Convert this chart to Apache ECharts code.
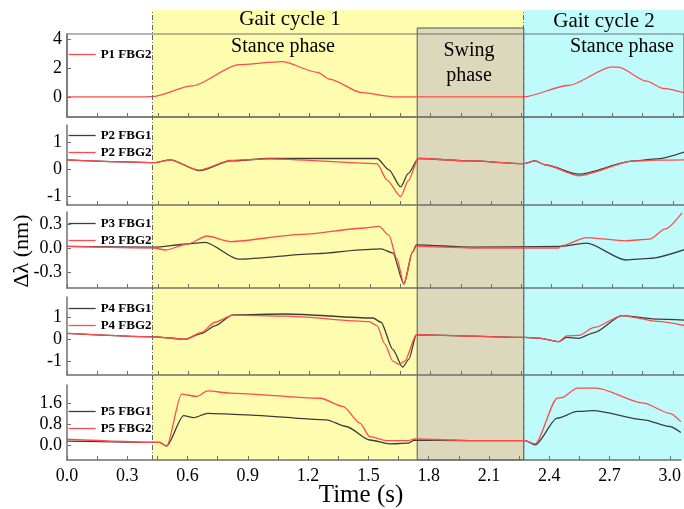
<!DOCTYPE html>
<html>
<head>
<meta charset="utf-8">
<script src="https://cdn.jsdelivr.net/npm/echarts@6/dist/echarts.min.js"></script>
<style>
  html, body { margin: 0; padding: 0; background: #fff; }
  #main { width: 684px; height: 509px; }
</style>
</head>
<body>
<div id="main"></div>
<script>
var FONT = '"Liberation Serif", "Times New Roman", serif';

// phase boundaries (s): gait cycle 1 start, swing start, gait cycle 2 start, end of record
var phaseBounds = [0.422, 1.734, 2.262, 3.055];
var timeLabels = [0, 0.3, 0.6, 0.9, 1.2, 1.5, 1.8, 2.1, 2.4, 2.7, 3.0];
var timeTicks = [0, 0.15, 0.3, 0.45, 0.6, 0.75, 0.9, 1.05, 1.2, 1.35, 1.5, 1.65, 1.8, 1.95, 2.1, 2.25, 2.4, 2.55, 2.7, 2.85, 3.0];

// P1
var p1Fbg2T = [0, 0.34, 0.42, 0.62, 0.85, 1.065, 1.24, 1.30, 1.46, 1.63, 2.26, 2.48, 2.70, 2.73, 2.87, 2.95, 3.055];
var p1Fbg2 = [0, 0, 0.02, 0.77, 2.26, 2.47, 1.72, 1.25, 0.3, 0, 0, 0.8, 2.1, 2.08, 1.1, 0.6, 0.3];

// P2
var p2Fbg1T = [0, 0.44, 0.51, 0.655, 0.81, 1.0, 1.535, 1.594, 1.652, 1.69, 1.74, 2.0, 2.259, 2.318, 2.37, 2.533, 2.807, 2.924, 3.057];
var p2Fbg1 = [0.34, 0.24, 0.34, -0.06, 0.3, 0.39, 0.39, -0.03, -0.66, -0.16, 0.39, 0.3, 0.2, 0.3, 0.15, -0.19, 0.3, 0.38, 0.63];
var p2Fbg2T = [0, 0.44, 0.51, 0.655, 0.81, 1.0, 1.535, 1.585, 1.652, 1.69, 1.74, 2.0, 2.259, 2.318, 2.37, 2.533, 2.807, 2.924, 3.057];
var p2Fbg2 = [0.34, 0.24, 0.34, -0.04, 0.32, 0.38, 0.2, -0.41, -1.02, -0.43, 0.39, 0.3, 0.2, 0.3, 0.15, -0.25, 0.3, 0.33, 0.34];

// P3
var p3Fbg1T = [0, 0.43, 0.596, 0.684, 0.849, 1.24, 1.476, 1.555, 1.613, 1.668, 1.711, 1.73, 2.0, 2.435, 2.572, 2.768, 2.885, 3.057];
var p3Fbg1 = [0.02, 0.01, 0.05, 0.07, -0.14, -0.07, -0.02, -0.01, -0.06, -0.45, -0.05, 0.04, 0.01, 0.02, 0.06, -0.15, -0.13, -0.02];
var p3Fbg2T = [0, 0.43, 0.489, 0.596, 0.694, 0.81, 1.162, 1.476, 1.545, 1.594, 1.633, 1.668, 1.711, 1.73, 2.0, 2.435, 2.45, 2.572, 2.768, 2.885, 2.963, 3.045];
var p3Fbg2 = [0.02, 0.0, -0.025, 0.05, 0.15, 0.08, 0.17, 0.25, 0.27, 0.16, -0.13, -0.45, -0.05, 0.02, 0.0, 0.0, 0.03, 0.13, 0.09, 0.11, 0.24, 0.44];

// P4
var p4Fbg1T = [0, 0.43, 0.586, 0.664, 0.733, 0.821, 1.085, 1.515, 1.555, 1.613, 1.662, 1.692, 1.73, 2.0, 2.268, 2.337, 2.435, 2.474, 2.533, 2.611, 2.748, 2.924, 3.057];
var p4Fbg1 = [0.26, 0.11, 0, 0.25, 0.6, 1.09, 1.13, 0.95, 0.76, -0.45, -1.25, -0.9, 0.2, 0.14, 0.08, 0.05, -0.11, 0.08, 0.04, 0.3, 1.06, 0.9, 0.85];
var p4Fbg2T = [0, 0.43, 0.586, 0.664, 0.733, 0.821, 1.085, 1.496, 1.535, 1.574, 1.613, 1.643, 1.672, 1.73, 2.0, 2.268, 2.337, 2.435, 2.474, 2.533, 2.611, 2.748, 2.924, 3.057];
var p4Fbg2 = [0.26, 0.11, 0, 0.3, 0.76, 1.08, 1.03, 0.79, 0.61, -0.22, -0.98, -1.12, -0.98, 0.2, 0.14, 0.08, 0.05, -0.11, 0.15, 0.17, 0.53, 1.06, 0.8, 0.61];

// P5
var p5Fbg1T = [0, 0.46, 0.496, 0.58, 0.63, 0.70, 0.86, 1.29, 1.39, 1.507, 1.605, 1.70, 1.73, 2.0, 2.28, 2.33, 2.44, 2.54, 2.62, 2.87, 3.0, 3.055];
var p5Fbg1 = [0.15, 0.1, -0.04, 1.13, 1.05, 1.22, 1.17, 0.97, 0.71, 0.19, 0.04, 0.07, 0.19, 0.17, 0.17, 0.0, 1.03, 1.29, 1.32, 0.97, 0.71, 0.48];
var p5Fbg2T = [0, 0.46, 0.496, 0.57, 0.645, 0.70, 0.81, 1.26, 1.375, 1.458, 1.507, 1.59, 1.70, 1.73, 2.0, 2.28, 2.33, 2.44, 2.46, 2.54, 2.635, 2.87, 3.0, 3.055];
var p5Fbg2 = [0.22, 0.1, -0.04, 1.96, 1.87, 2.08, 2.0, 1.8, 1.48, 0.84, 0.32, 0.17, 0.17, 0.23, 0.17, 0.17, 0.04, 1.8, 1.82, 2.19, 2.19, 1.61, 1.22, 0.9];

var yRanges = [[-1.4, 4.4], [-1.33, 1.63], [-0.5, 0.45], [-1.6, 1.89], [-0.58, 2.31]];
var yTicks = [[0, 2, 4], [-1, 0, 1], [-0.3, 0, 0.3], [-1, 0, 1], [0, 0.8, 1.6]];
var yDecimals = [0, 0, 1, 0, 1];

var panelGrids = [
  { top: 34, height: 83 },
  { top: 125, height: 80 },
  { top: 212, height: 76 },
  { top: 297, height: 78 },
  { top: 385, height: 75 }
];
var legendTops = [43, 124, 212, 297, 400];

var RED = '#ff4b4b';
var DARK = '#3c3c3c';
var AXIS = '#707070';

function pairs(t, v) {
  return t.map(function (x, i) { return [x, v[i]]; });
}

var chart = echarts.init(document.getElementById('main'));

var grids = [], xAxes = [], yAxes = [], series = [], legends = [];

panelGrids.forEach(function (g, i) {
  grids.push({
    left: 67, right: 0, top: g.top, height: g.height,
    show: i === 0, borderColor: AXIS, borderWidth: 1.2, z: 4,
    backgroundColor: 'transparent'
  });
  xAxes.push({
    type: 'value', gridIndex: i, min: 0, max: phaseBounds[3], z: 4,
    axisLine: { onZero: false, lineStyle: { color: AXIS, width: 1.5 } },
    axisTick: { inside: true, length: 4, customValues: timeTicks, lineStyle: { color: AXIS } },
    axisLabel: {
      show: i === 4, customValues: timeLabels, margin: 7,
      fontFamily: FONT, fontSize: 18, color: '#000',
      formatter: function (v) { return v.toFixed(1); }
    },
    splitLine: { show: false }
  });
  yAxes.push({
    type: 'value', gridIndex: i, min: yRanges[i][0], max: yRanges[i][1], z: 4,
    axisLine: { show: true, lineStyle: { color: AXIS, width: 1.5 } },
    axisTick: { show: true, inside: true, length: 4, customValues: yTicks[i], lineStyle: { color: AXIS } },
    axisLabel: {
      customValues: yTicks[i], margin: 5,
      fontFamily: FONT, fontSize: 18, color: '#000',
      formatter: (function (d) { return function (v) { return v.toFixed(d); }; })(yDecimals[i])
    },
    splitLine: { show: false }
  });
});

// background grids for the phase shading
grids.push({ left: 67, right: 0, top: 10, bottom: 49 });
grids.push({ left: 67, right: 0, top: 28, bottom: 49 });
[5, 6].forEach(function (gi) {
  xAxes.push({ type: 'value', gridIndex: gi, min: 0, max: phaseBounds[3], show: false });
  yAxes.push({ type: 'value', gridIndex: gi, min: 0, max: 1, show: false });
});

series.push({
  type: 'line', xAxisIndex: 5, yAxisIndex: 5, data: [], silent: true, z: 0,
  markArea: {
    silent: true,
    data: [
      [{ xAxis: phaseBounds[0], itemStyle: { color: '#fdfcaf' } }, { xAxis: phaseBounds[2] }],
      [{ xAxis: phaseBounds[2], itemStyle: { color: '#bffbfb' } }, { xAxis: phaseBounds[3] }]
    ]
  },
  markLine: {
    silent: true, symbol: 'none', label: { show: false },
    lineStyle: { color: '#666', width: 1, type: [5, 2, 1, 2] },
    data: [{ xAxis: phaseBounds[0] }, { xAxis: phaseBounds[2] }]
  }
});
series.push({
  type: 'line', xAxisIndex: 6, yAxisIndex: 6, data: [], silent: true, z: 1,
  markArea: {
    silent: true,
    itemStyle: { color: '#dbd8bb', opacity: 1, borderColor: '#555', borderWidth: 1 },
    data: [[{ xAxis: phaseBounds[1] }, { xAxis: phaseBounds[2] }]]
  }
});

var panelSeries = [
  [['P1 FBG2', p1Fbg2T, p1Fbg2, RED]],
  [['P2 FBG1', p2Fbg1T, p2Fbg1, DARK], ['P2 FBG2', p2Fbg2T, p2Fbg2, RED]],
  [['P3 FBG1', p3Fbg1T, p3Fbg1, DARK], ['P3 FBG2', p3Fbg2T, p3Fbg2, RED]],
  [['P4 FBG1', p4Fbg1T, p4Fbg1, DARK], ['P4 FBG2', p4Fbg2T, p4Fbg2, RED]],
  [['P5 FBG1', p5Fbg1T, p5Fbg1, DARK], ['P5 FBG2', p5Fbg2T, p5Fbg2, RED]]
];

panelSeries.forEach(function (list, i) {
  list.forEach(function (s) {
    series.push({
      name: s[0], type: 'line', xAxisIndex: i, yAxisIndex: i,
      data: pairs(s[1], s[2]), symbol: 'none', smooth: 0.25, smoothMonotone: 'x',
      z: 3, lineStyle: { color: s[3], width: 1.3 }, itemStyle: { color: s[3] }
    });
  });
  legends.push({
    data: list.map(function (s) { return s[0]; }),
    orient: 'vertical', left: 63, top: legendTops[i],
    itemWidth: 27, itemHeight: 14, itemGap: 4, selectedMode: false,
    itemStyle: { opacity: 0 },
    lineStyle: { width: 1.3 },
    textStyle: { fontFamily: FONT, fontWeight: 'bold', fontSize: 13, color: '#000' }
  });
});

function label(text, x, y, size, rot) {
  return {
    type: 'text', x: x, y: y, z: 100, rotation: rot || 0, silent: true,
    style: { text: text, fontFamily: FONT, fontSize: size, fill: '#000', align: 'center', verticalAlign: 'middle' }
  };
}

var option = {
  animation: false,
  backgroundColor: '#fff',
  grid: grids,
  xAxis: xAxes,
  yAxis: yAxes,
  legend: legends,
  series: series,
  graphic: [
    label('Gait cycle 1', 290, 19, 21),
    label('Stance phase', 283, 47, 20),
    label('Swing', 469, 51, 20),
    label('phase', 469, 76, 20),
    label('Gait cycle 2', 604, 21, 21),
    label('Stance phase', 622, 47, 20),
    label('Δλ (nm)', 22, 251, 22, Math.PI / 2),
    label('Time (s)', 361, 495, 25)
  ]
};

chart.setOption(option);
</script>
</body>
</html>
